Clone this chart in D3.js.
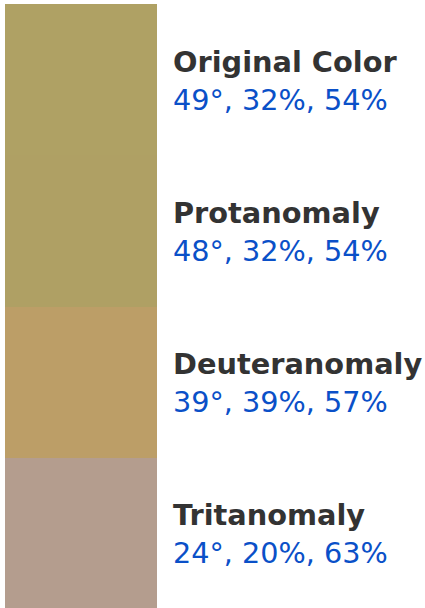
<!DOCTYPE html>
<html>
<head>
<meta charset="utf-8">
<script src="https://cdn.jsdelivr.net/npm/d3@7"></script>
<style>
  html, body { margin: 0; padding: 0; background: #fff; }
  svg { display: block; }
</style>
</head>
<body>
<svg id="chart" width="425" height="608"></svg>
<script>
const names = ["Original Color", "Protanomaly", "Deuteranomaly", "Tritanomaly"];
const hues = [49, 48, 39, 24];
const saturations = [32, 32, 39, 20];
const lightnesses = [54, 54, 57, 63];

const svg = d3.select("#chart");

const y = d3.scaleBand().domain(names).range([4, 609]).padding(0);
const x0 = 5, swatchW = 152;

const rows = svg.selectAll("g.row")
  .data(names.map((n, i) => ({ name: n, h: hues[i], s: saturations[i], l: lightnesses[i] })))
  .join("g")
  .attr("class", "row");

rows.append("rect")
  .attr("x", x0)
  .attr("y", d => Math.round(y(d.name)))
  .attr("width", swatchW)
  .attr("height", d => Math.round(y(d.name) + y.bandwidth()) - Math.round(y(d.name)) + 1)
  .attr("shape-rendering", "crispEdges")
  .attr("fill", d => d3.hsl(d.h, d.s / 100, d.l / 100).formatHex());

rows.append("text")
  .attr("x", 173)
  .attr("y", d => y(d.name) + y.bandwidth() / 2 - 8)
  .attr("font-family", "DejaVu Sans")
  .attr("font-weight", "bold")
  .attr("font-size", 28.8)
  .attr("fill", "#333333")
  .text(d => d.name);

rows.append("text")
  .attr("x", 173)
  .attr("y", d => y(d.name) + y.bandwidth() / 2 + 30)
  .attr("font-family", "DejaVu Sans")
  .attr("font-size", 28.7)
  .attr("fill", "#0a50c8")
  .text(d => `${d.h}°, ${d.s}%, ${d.l}%`);
</script>
</body>
</html>
